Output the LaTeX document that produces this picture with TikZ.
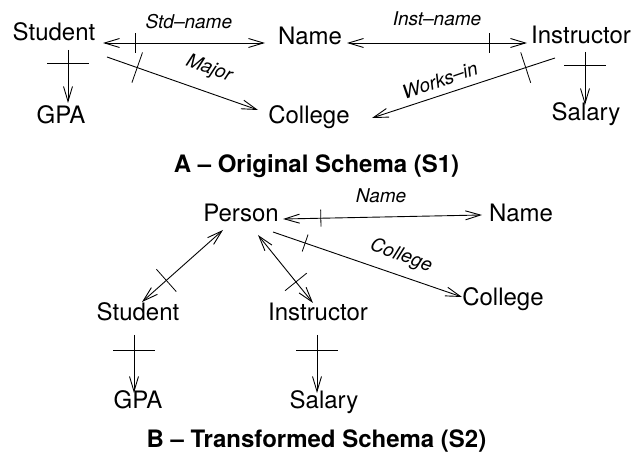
\documentclass[tikz,border=0pt]{standalone}
\usepackage{fontspec}
\setmainfont{TeX Gyre Heros}
\usetikzlibrary{arrows.meta,decorations.markings}

\begin{document}
\begin{tikzpicture}[x=1pt,y=-1pt,line width=0.9pt,
  >={Straight Barb[length=15pt,width=9pt]},
  entity/.style={anchor=base,inner sep=0pt,font=\fontsize{24}{28}\selectfont},
  role/.style={inner sep=0pt,font=\fontsize{19}{22}\selectfont\itshape},
  caption/.style={anchor=base,inner sep=0pt,font=\fontsize{24}{28}\selectfont\bfseries},
  % short cross line at a given position along a link, #2 = half length in pt
  crossbar/.style 2 args={postaction={decorate},
    decoration={markings,mark=at position #1 with
      {\draw[-,line width=0.8pt] (0pt,-#2pt) -- (0pt,#2pt);}}}]
\useasboundingbox (0,0) rectangle (633,454);

% ---------- A: original schema ----------
\node[entity] (stA) at (54,41)  {Student};
\node[entity] (nmA) at (310,45) {Name};
\node[entity] (inA) at (581,44) {Instructor};
\node[entity] (gpA) at (61,124) {GPA};
\node[entity] (clA) at (309,124) {College};
\node[entity] (saA) at (586,121) {Salary};

\draw[<->,crossbar={0.2}{10}]
  ([shift={(49,2)}]stA.base) -- ([shift={(-45,-2)}]nmA.base)
  node[role,anchor=base,pos=0.53,yshift=14pt] (lsn) {Std–name};
\draw[<->,crossbar={0.79}{10}]
  ([shift={(37,-2)}]nmA.base) -- ([shift={(-54,-1)}]inA.base)
  node[role,anchor=base,pos=0.5,yshift=17pt] (lin) {Inst–name};
\draw[->,crossbar={0.2}{16}]
  ([shift={(53,16)}]stA.base) -- ([shift={(-51,-14)}]clA.base);
\node[role,rotate=-21] (lmj) at (209,69) {Major};
\draw[->,crossbar={0.16}{16}]
  ([shift={(-26,14)}]inA.base) -- ([shift={(63,-6)}]clA.base);
\node[role,rotate=19] (lwk) at (440,80) {Works–in};
\draw[->,crossbar={0.25}{21}]
  ([shift={(14,9)}]stA.base) -- ([shift={(7,-21)}]gpA.base);
\draw[->,crossbar={0.26}{21}]
  ([shift={(4,8)}]inA.base) -- ([shift={(-1,-16)}]saA.base);

\node[caption] (capA) at (316.5,173) {A – Original Schema (S1)};

% ---------- B: transformed schema ----------
\node[entity] (prB) at (241,222) {Person};
\node[entity] (nmB) at (521,222) {Name};
\node[entity] (clB) at (503,306) {College};
\node[entity] (sdB) at (138,321) {Student};
\node[entity] (irB) at (318,321) {Instructor};
\node[entity] (gpB) at (138,409) {GPA};
\node[entity] (saB) at (324,409) {Salary};

\draw[<->,crossbar={0.19}{8.5}]
  ([shift={(42,-3)}]prB.base) -- ([shift={(-39,-7)}]nmB.base);
\node[role,anchor=base] (lnm) at (381,203) {Name};
\draw[->,crossbar={0.17}{9}]
  ([shift={(32,10)}]prB.base) -- ([shift={(-41,-9)}]clB.base);
\node[role,rotate=-20] (lcl) at (401,256) {College};
\draw[<->,crossbar={0.7}{15}]
  ([shift={(-18,8)}]prB.base) -- ([shift={(4,-19)}]sdB.base);
\draw[<->,crossbar={0.69}{14}]
  ([shift={(17,13)}]prB.base) -- ([shift={(-5,-18)}]irB.base);
\draw[->,crossbar={0.26}{21}]
  ([shift={(-4,14)}]sdB.base) -- ([shift={(-4,-16)}]gpB.base);
\draw[->,crossbar={0.26}{21}]
  ([shift={(-1,14)}]irB.base) -- ([shift={(-7,-16)}]saB.base);

\node[caption] (capB) at (316.5,448) {B – Transformed Schema (S2)};
\end{tikzpicture}
\end{document}
